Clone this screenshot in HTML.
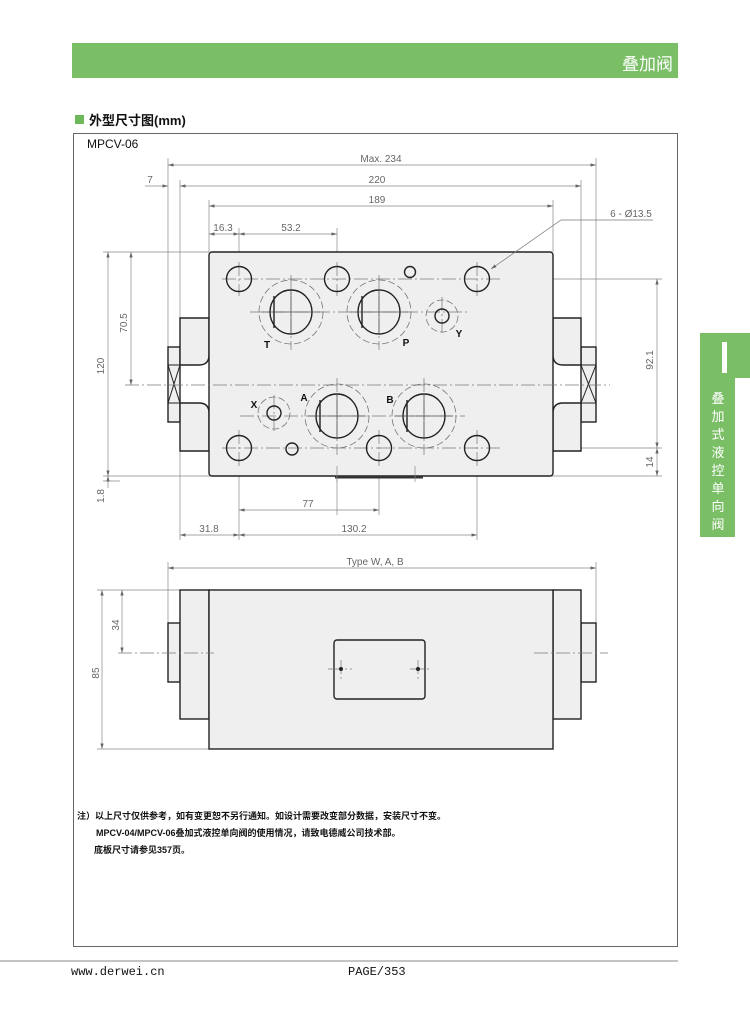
<!DOCTYPE html>
<html><head><meta charset="utf-8"><style>
html,body{margin:0;padding:0;background:#fff;}
body{width:750px;height:1018px;position:relative;overflow:hidden;font-family:"Liberation Sans","Noto Sans CJK SC",sans-serif;}
</style></head><body>
<svg width="750" height="1018" viewBox="0 0 750 1018" xmlns="http://www.w3.org/2000/svg" style="position:absolute;left:0;top:0">
<defs>
<marker id="a" viewBox="0 0 10 6" refX="10" refY="3" markerWidth="8" markerHeight="5" orient="auto-start-reverse"><path d="M0,0 L10,3 L0,6 z" fill="#666"/></marker>
</defs>
<!-- header -->
<rect x="72" y="43" width="606" height="35" fill="#7abf66"/>
<text x="673" y="70" font-size="17" fill="#fff" text-anchor="end" font-family="Liberation Sans,Noto Sans CJK SC,sans-serif">叠加阀</text>
<!-- side tab -->
<rect x="700" y="333" width="50" height="45" fill="#7abf66"/>
<rect x="700" y="333" width="35" height="204" fill="#7abf66"/>
<rect x="722" y="342" width="5" height="31" fill="#fff"/>
<g font-size="13" fill="#fff" text-anchor="middle" font-family="Noto Sans CJK SC,sans-serif">
<text x="718" y="403">叠</text><text x="718" y="421">加</text><text x="718" y="439">式</text><text x="718" y="457">液</text><text x="718" y="475">控</text><text x="718" y="493">单</text><text x="718" y="511">向</text><text x="718" y="529">阀</text>
</g>
<!-- section title -->
<rect x="75" y="115" width="9" height="9" fill="#6cb85a"/>
<text x="89" y="125" font-size="13" fill="#111" font-weight="bold" font-family="Liberation Sans,Noto Sans CJK SC,sans-serif">外型尺寸图(mm)</text>
<rect x="73.5" y="133.5" width="604" height="813" fill="none" stroke="#666" stroke-width="1"/>
<text x="87" y="148" font-size="12" fill="#111">MPCV-06</text>

<!-- ===== TOP VIEW ===== -->
<g stroke="#888" stroke-width="0.7" fill="none">
<line x1="168" y1="158" x2="168" y2="347"/><line x1="596" y1="158" x2="596" y2="347"/>
<line x1="180" y1="180" x2="180" y2="540"/><line x1="581" y1="180" x2="581" y2="318"/>
<line x1="209" y1="200" x2="209" y2="252"/><line x1="553" y1="200" x2="553" y2="252"/>
<line x1="239" y1="228" x2="239" y2="540"/><line x1="337" y1="228" x2="337" y2="515"/>
<line x1="379" y1="448" x2="379" y2="515"/><line x1="477" y1="448" x2="477" y2="540"/>
<line x1="103" y1="252" x2="209" y2="252"/>
<line x1="553" y1="279" x2="662" y2="279"/><line x1="553" y1="448" x2="662" y2="448"/>
<line x1="103" y1="476" x2="662" y2="476"/>
<line x1="103" y1="481" x2="120" y2="481"/>
<line x1="168" y1="165" x2="596" y2="165" marker-start="url(#a)" marker-end="url(#a)"/>
<line x1="180" y1="186" x2="581" y2="186" marker-start="url(#a)" marker-end="url(#a)"/>
<line x1="145" y1="186" x2="168" y2="186" marker-end="url(#a)"/>
<line x1="209" y1="206" x2="553" y2="206" marker-start="url(#a)" marker-end="url(#a)"/>
<line x1="209" y1="234" x2="239" y2="234" marker-start="url(#a)" marker-end="url(#a)"/>
<line x1="239" y1="234" x2="337" y2="234" marker-start="url(#a)" marker-end="url(#a)"/>
<line x1="108" y1="252" x2="108" y2="476" marker-start="url(#a)" marker-end="url(#a)"/>
<line x1="131" y1="252" x2="131" y2="385" marker-start="url(#a)" marker-end="url(#a)"/>
<line x1="657" y1="279" x2="657" y2="448" marker-start="url(#a)" marker-end="url(#a)"/>
<line x1="657" y1="448" x2="657" y2="476" marker-start="url(#a)" marker-end="url(#a)"/>
<line x1="108" y1="488" x2="108" y2="476" marker-end="url(#a)"/>
<line x1="239" y1="510" x2="379" y2="510" marker-start="url(#a)" marker-end="url(#a)"/>
<line x1="180" y1="535" x2="239" y2="535" marker-start="url(#a)" marker-end="url(#a)"/>
<line x1="239" y1="535" x2="477" y2="535" marker-start="url(#a)" marker-end="url(#a)"/>
</g>
<g font-size="10" fill="#666" text-anchor="middle">
<text x="381" y="162">Max. 234</text>
<text x="377" y="183">220</text>
<text x="150" y="183">7</text>
<text x="377" y="203">189</text>
<text x="223" y="231">16.3</text>
<text x="291" y="231">53.2</text>
<text x="631" y="217">6 - Ø13.5</text>
<text x="308" y="507">77</text>
<text x="209" y="532">31.8</text>
<text x="354" y="532">130.2</text>
<text transform="translate(104,366) rotate(-90)">120</text>
<text transform="translate(127,323) rotate(-90)">70.5</text>
<text transform="translate(653,360) rotate(-90)">92.1</text>
<text transform="translate(653,462) rotate(-90)">14</text>
<text transform="translate(104,496) rotate(-90)">1.8</text>
</g>
<!-- body -->
<g stroke="#222" stroke-width="1.4" fill="#efefef">
<rect x="168" y="347" width="12" height="75"/>
<rect x="581" y="347" width="15" height="75"/>
<path d="M180,318 H209 V355 Q209,365 199,365 H180 Z"/>
<path d="M180,403 H199 Q209,403 209,413 V451 H180 Z"/>
<path d="M581,318 H553 V355 Q553,365 563,365 H581 Z"/>
<path d="M581,403 H563 Q553,403 553,413 V451 H581 Z"/>
<rect x="209" y="252" width="344" height="224" rx="3"/>
</g>
<g stroke="#222" stroke-width="1" fill="none">
<line x1="168" y1="365" x2="180" y2="403"/><line x1="180" y1="365" x2="168" y2="403"/>
<line x1="168" y1="365" x2="180" y2="365"/><line x1="168" y1="403" x2="180" y2="403"/>
<line x1="581" y1="365" x2="596" y2="403"/><line x1="596" y1="365" x2="581" y2="403"/>
<line x1="581" y1="365" x2="596" y2="365"/><line x1="581" y1="403" x2="596" y2="403"/>
</g>
<rect x="335" y="476" width="88" height="2.5" fill="#333"/>
<g stroke="#888" stroke-width="0.7">
<line x1="337" y1="466" x2="337" y2="482"/><line x1="415" y1="466" x2="415" y2="482"/>
</g>
<!-- center lines -->
<g stroke="#777" stroke-width="0.7" fill="none" stroke-dasharray="14,3,2,3">
<line x1="125" y1="385" x2="610" y2="385"/>
<line x1="222" y1="279" x2="500" y2="279"/>
<line x1="222" y1="448" x2="500" y2="448"/>
<line x1="250" y1="312" x2="470" y2="312"/>
<line x1="240" y1="416" x2="465" y2="416"/>
<line x1="239" y1="262" x2="239" y2="296"/><line x1="337" y1="262" x2="337" y2="296"/><line x1="477" y1="262" x2="477" y2="296"/>
<line x1="291" y1="275" x2="291" y2="350"/><line x1="379" y1="275" x2="379" y2="350"/>
<line x1="337" y1="378" x2="337" y2="455"/><line x1="424" y1="378" x2="424" y2="455"/>
<line x1="442" y1="297" x2="442" y2="335"/><line x1="274" y1="395" x2="274" y2="432"/>
<line x1="239" y1="430" x2="239" y2="466"/><line x1="379" y1="430" x2="379" y2="466"/><line x1="477" y1="430" x2="477" y2="466"/>
</g>
<g stroke="#777" stroke-width="0.8" fill="none" stroke-dasharray="7,3">
<circle cx="291" cy="312" r="32"/><circle cx="379" cy="312" r="32"/>
<circle cx="337" cy="416" r="32"/><circle cx="424" cy="416" r="32"/>
<circle cx="442" cy="316" r="16"/><circle cx="274" cy="413" r="16"/>
</g>
<g stroke="#222" stroke-width="1.4" fill="none">
<circle cx="239" cy="279" r="12.5"/><circle cx="337" cy="279" r="12.5"/><circle cx="477" cy="279" r="12.5"/>
<circle cx="239" cy="448" r="12.5"/><circle cx="379" cy="448" r="12.5"/><circle cx="477" cy="448" r="12.5"/>
<circle cx="410" cy="272" r="5.5"/><circle cx="292" cy="449" r="6"/>
<circle cx="442" cy="316" r="7"/><circle cx="274" cy="413" r="7"/>
<ellipse cx="291" cy="312" rx="21" ry="22"/><ellipse cx="379" cy="312" rx="21" ry="22"/>
<ellipse cx="337" cy="416" rx="21" ry="22"/><ellipse cx="424" cy="416" rx="21" ry="22"/>
<line x1="274" y1="296" x2="274" y2="328"/><line x1="362" y1="296" x2="362" y2="328"/>
<line x1="320" y1="400" x2="320" y2="432"/><line x1="407" y1="400" x2="407" y2="432"/>
</g>
<g stroke="#555" stroke-width="0.8">
<line x1="262" y1="312" x2="320" y2="312"/><line x1="291" y1="290" x2="291" y2="334"/>
<line x1="350" y1="312" x2="408" y2="312"/><line x1="379" y1="290" x2="379" y2="334"/>
<line x1="308" y1="416" x2="366" y2="416"/><line x1="337" y1="394" x2="337" y2="438"/>
<line x1="395" y1="416" x2="453" y2="416"/><line x1="424" y1="394" x2="424" y2="438"/>
</g>
<polyline points="653,220 561,220 491,269" fill="none" stroke="#777" stroke-width="0.7" marker-end="url(#a)"/>
<g font-size="10" font-weight="bold" fill="#111" text-anchor="middle">
<text x="267" y="348">T</text><text x="406" y="346">P</text><text x="459" y="337">Y</text>
<text x="254" y="408">X</text><text x="304" y="401">A</text><text x="390" y="403">B</text>
</g>

<!-- ===== SIDE VIEW ===== -->
<g stroke="#888" stroke-width="0.7" fill="none">
<line x1="168" y1="562" x2="168" y2="623"/><line x1="596" y1="562" x2="596" y2="623"/>
<line x1="168" y1="568" x2="596" y2="568" marker-start="url(#a)" marker-end="url(#a)"/>
<line x1="97" y1="590" x2="180" y2="590"/><line x1="97" y1="749" x2="209" y2="749"/>
<line x1="102" y1="590" x2="102" y2="749" marker-start="url(#a)" marker-end="url(#a)"/>
<line x1="122" y1="590" x2="122" y2="653" marker-start="url(#a)" marker-end="url(#a)"/>
</g>
<g font-size="10" fill="#666" text-anchor="middle">
<text x="375" y="565">Type W, A, B</text>
<text transform="translate(99,673) rotate(-90)">85</text>
<text transform="translate(119,625) rotate(-90)">34</text>
</g>
<g stroke="#222" stroke-width="1.4" fill="#efefef">
<rect x="168" y="623" width="12" height="59"/>
<rect x="581" y="623" width="15" height="59"/>
<rect x="180" y="590" width="29" height="129"/>
<rect x="553" y="590" width="28" height="129"/>
<rect x="209" y="590" width="344" height="159"/>
<rect x="334" y="640" width="91" height="59" rx="3"/>
</g>
<g stroke="#777" stroke-width="0.7" stroke-dasharray="14,3,2,3">
<line x1="118" y1="653" x2="214" y2="653"/><line x1="534" y1="653" x2="608" y2="653"/>
<line x1="328" y1="669" x2="352" y2="669"/><line x1="410" y1="669" x2="432" y2="669"/>
<line x1="341" y1="660" x2="341" y2="680"/><line x1="418" y1="660" x2="418" y2="680"/>
</g>
<circle cx="341" cy="669" r="2" fill="#222"/><circle cx="418" cy="669" r="2" fill="#222"/>

<!-- notes -->
<g font-size="9" fill="#111" font-weight="bold" font-family="Liberation Sans,Noto Sans CJK SC,sans-serif">
<text x="77" y="819">注）以上尺寸仅供参考，如有变更恕不另行通知。如设计需要改变部分数据，安装尺寸不变。</text>
<text x="96" y="836">MPCV-04/MPCV-06叠加式液控单向阀的使用情况，请致电德威公司技术部。</text>
<text x="94" y="853">底板尺寸请参见357页。</text>
</g>
<line x1="0" y1="961" x2="678" y2="961" stroke="#888" stroke-width="1"/>
<g font-size="12" fill="#111" font-family="Liberation Mono,monospace">
<text x="71" y="975">www.derwei.cn</text>
<text x="348" y="975">PAGE/353</text>
</g>
</svg>
</body></html>
